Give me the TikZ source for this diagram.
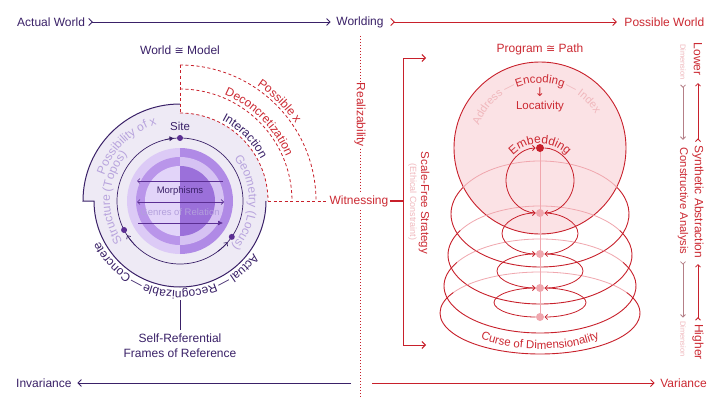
\documentclass[tikz,border=0pt]{standalone}
\usepackage{fontspec}
\setmainfont{Liberation Sans}
\newfontfamily\symf{DejaVu Sans}
\usetikzlibrary{arrows.meta,decorations.text,calc}
\definecolor{pD}{HTML}{3A2168}
\definecolor{pM}{HTML}{5B2E93}
\definecolor{lavBG}{HTML}{EEEAF5}
\definecolor{lavT}{HTML}{B8A4DD}
\definecolor{genT}{HTML}{B3A0DC}
\definecolor{pLa}{HTML}{DCCAF6}
\definecolor{pLb}{HTML}{D6C2F3}
\definecolor{pLc}{HTML}{E2D4F9}
\definecolor{pDa}{HTML}{B995EA}
\definecolor{pDb}{HTML}{B08AE6}
\definecolor{pDc}{HTML}{9B70DA}
\definecolor{rD}{HTML}{C8202B}
\definecolor{rT}{HTML}{CC2A33}
\definecolor{pkF}{HTML}{FBE2E5}
\definecolor{pkL}{HTML}{F0A7AE}
\definecolor{pkT}{HTML}{F0B7BC}
\definecolor{mauve}{HTML}{B57F87}
\newcommand{\myfs}[1]{\fontsize{#1}{#1}\selectfont}
% center, radius, start, end, format, text
\newcommand{\arctext}[6]{%
  \path[decorate,decoration={text along path,text align=center,text={|#5|#6}}]
    ($(#1)+(#3:#2)$) arc[start angle=#3,end angle=#4,radius=#2];}
\begin{document}
\begin{tikzpicture}[x=1pt,y=-1pt,
  lbl/.style={inner sep=1.5pt,font=\myfs{12}},
  barb/.style={{Straight Barb[reversed,length=3.5pt,width=7pt]}-{Straight Barb[length=3.5pt,width=7pt]}},
  sbarb/.style={{Straight Barb[reversed,length=2.5pt,width=5pt]}-{Straight Barb[length=2.5pt,width=5pt]}},
  headonly/.style={-{Straight Barb[length=3.5pt,width=7pt]}},
  dotl/.style={rD,line width=0.8pt,dash pattern=on 0.9pt off 2.1pt},
  dsh/.style={rD,line width=0.8pt,dash pattern=on 3pt off 2.5pt},
  loopar/.style={rD,line width=0.8pt,-{Straight Barb[length=2.5pt,width=5pt]},shorten >=4.5pt,shorten <=4.5pt},
]
\fill[white] (0,0) rectangle (720,404);
\useasboundingbox (0,0) rectangle (720,404);

% ---------- top and bottom axes ----------
\node[lbl,text=pD,anchor=west] (aw) at (15.5,22) {Actual World};
\node[lbl,text=pD] (wl) at (360,22) {Worlding};
\node[lbl,text=rT,anchor=east] (pw) at (706,22) {Possible World};
\draw[pD,line width=0.9pt,barb,shorten <=1.5pt,shorten >=4pt] (aw) -- (wl);
\draw[rD,line width=0.9pt,barb,shorten <=5pt,shorten >=6pt] (wl) -- (pw);

\node[lbl,text=pD,anchor=west] (inv) at (14.5,383) {Invariance};
\node[lbl,text=rT,anchor=east] (var) at (708.5,383) {Variance};
\coordinate (invS) at (351,383);
\coordinate (varS) at (372,383);
\draw[pD,line width=0.9pt,headonly,shorten >=4pt] (invS) -- (inv);
\draw[rD,line width=0.9pt,headonly,shorten >=4pt] (varS) -- (var);

% ---------- middle dotted divider ----------
\node[lbl,text=rT,rotate=-90] (real) at (360,115) {Realizability};
\node[lbl,text=rT] (wit) at (359,201) {Witnessing};
\coordinate (dTop) at (360,36);
\coordinate (dBot) at (360,397);
\draw[dotl] (dTop) -- (real.west);
\draw[dotl] (real.east) -- (360,193);
\draw[dotl] (360,210) -- (dBot);

% ---------- left world/model disc ----------
\node[lbl,text=pD] (wm) at (180,50) {World {\symf\myfs{11}≅} Model};
\coordinate (C) at (180,201);
\begin{scope}[shift={(180,201)}]
  \fill[lavBG] (0,-97) arc[start angle=-90,end angle=-180,radius=97] -- (-86,0)
     arc[start angle=180,end angle=0,radius=86] -- (88,0)
     arc[start angle=0,end angle=-90,radius=88] -- cycle;
  \draw[pD,line width=1pt] (0,-97) arc[start angle=-90,end angle=-180,radius=97] -- (-86,0)
     arc[start angle=180,end angle=0,radius=86];
  % checkered core
  \fill[pLa] (0,-53) arc[start angle=-90,end angle=-270,radius=53] -- cycle;
  \fill[pDb] (0,-53) arc[start angle=-90,end angle=90,radius=53] -- cycle;
  \fill[pDa] (0,-44) arc[start angle=-90,end angle=-270,radius=44] -- cycle;
  \fill[pLb] (0,-44) arc[start angle=-90,end angle=90,radius=44] -- cycle;
  \fill[pLc] (0,-35) arc[start angle=-90,end angle=-270,radius=35] -- cycle;
  \fill[pDc] (0,-35) arc[start angle=-90,end angle=90,radius=35] -- cycle;
  % site circle
  \draw[pD,line width=0.7pt] (0,0) circle[radius=63];
  \draw[pD,line width=0.7pt,-{Latex[length=5pt,width=5pt]}] (-104:63) arc[start angle=-104,end angle=-95,radius=63];
  \draw[pD,line width=0.7pt,-{Straight Barb[length=2.5pt,width=5pt]}] (135:63) arc[start angle=135,end angle=147,radius=63];
  \draw[pD,line width=0.7pt,-{Straight Barb[length=2.5pt,width=5pt]}] (53:63) arc[start angle=53,end angle=41,radius=63];
  \coordinate (site) at (-90:63);
  \coordinate (sl) at (152.6:63);
  \coordinate (sr) at (34.7:63);
  \fill[pM] (site) circle[radius=3];
  \fill[pM] (sl) circle[radius=3];
  \fill[pM] (sr) circle[radius=3];
  % morphism arrows
  \coordinate (m1a) at (-43,-20); \coordinate (m1b) at (43,-20);
  \coordinate (m2a) at (-43,1);   \coordinate (m2b) at (44,1);
  \coordinate (m3a) at (-42,22);  \coordinate (m3b) at (43,22);
  \draw[pM,line width=0.7pt,{Straight Barb[length=2.5pt,width=5pt]}-] (m1a) -- (m1b);
  \draw[pM,line width=0.7pt,{Straight Barb[length=2.5pt,width=5pt]}-{Straight Barb[length=2.5pt,width=5pt]}] (m2a) -- (m2b);
  \draw[pM,line width=0.7pt,-{Latex[length=5pt,width=5pt]}] (m3a) -- (m3b);
  \node[text=pD,font=\myfs{9.5}] (morph) at (0,-10) {Morphisms};
  \node[text=genT,font=\myfs{9.5}] (genres) at (0,11) {Genres of Relation};
  \node[lbl,text=pD,font=\myfs{11.5}] (sitel) at (0,-75) {Site};
  % dashed possibility arcs
  \draw[dsh] (0,-136) -- (0,-88);
  \draw[dsh] (0,-88) arc[start angle=-90,end angle=0,radius=88];
  \draw[dsh] (0,-112) arc[start angle=-90,end angle=0,radius=112];
  \draw[dsh] (0,-136) arc[start angle=-90,end angle=0,radius=136];
  \coordinate (dashS) at (88,0);
\end{scope}
\draw[dsh] (dashS) -- (wit.west);
% curved texts of the left disc
\arctext{C}{80}{-184}{-84}{\myfs{12}\color{lavT}}{Possibility of x}
\arctext{C}{70}{113}{253}{\myfs{12}\color{lavT}}{Structure (Topos)}
\arctext{C}{69}{-68}{71}{\myfs{12}\color{lavT}}{Geometry (Locus)}
\arctext{C}{90}{16}{76}{\myfs{12}\color{pD}}{Actual}
\arctext{C}{90}{52}{72}{\myfs{12}\color{pD}}{—}
\arctext{C}{90}{55}{125}{\myfs{12}\color{pD}}{Recognizable}
\arctext{C}{90}{108}{128}{\myfs{12}\color{pD}}{—}
\arctext{C}{90}{108}{168}{\myfs{12}\color{pD}}{Concrete}
\arctext{C}{91}{-85}{-5}{\myfs{12}\color{pD}}{Interaction}
\arctext{C}{115}{-85}{-5}{\myfs{12}\color{rT}}{Deconcretization}
\arctext{C}{139}{-85}{-5}{\myfs{12}\color{rT}}{Possible x}
% self-referential
\node[text=pD,font=\fontsize{12}{15}\selectfont,align=center] (selfref) at (180,345.5) {Self-Referential\\Frames of Reference};
\coordinate (vlTop) at (180,300);
\draw[pD,line width=1pt] (vlTop) -- (selfref.north);

% ---------- bracket ----------
\coordinate (brM) at (403,201);
\coordinate (brT) at (403,58);
\coordinate (brB) at (403,345);
\coordinate (brTe) at (426,58);
\coordinate (brBe) at (426,345);
\draw[rD,line width=1.4pt] (wit.east) -- (brM);
\draw[rD,line width=0.9pt,{Straight Barb[length=3.5pt,width=7pt]}-{Straight Barb[length=3.5pt,width=7pt]}] (brTe) -- (brT) -- (brB) -- (brBe);
\node[lbl,text=rT,font=\myfs{11.5},rotate=-90] (sfs) at (424,203) {Scale-Free Strategy};
\node[text=pkT,font=\myfs{9},rotate=-90,inner sep=1pt] (eth) at (412.5,202) {(Ethical Constraint)};

% ---------- right sphere and discs ----------
\node[lbl,text=rT] (prog) at (540,49) {Program {\symf\myfs{11}≅} Path};
\filldraw[fill=pkF,draw=rD,line width=0.9pt] (540,148) circle[radius=86];
\foreach \cy/\rx/\ry in {214/89/53,255/92/49,286/96/47,313/100/41}{
  \draw[pkL,line width=0.8pt] ($(540,\cy)+(210:{\rx} and {\ry})$) arc[start angle=210,end angle=330,x radius=\rx,y radius=\ry];
  \draw[rD,line width=0.9pt] ($(540,\cy)+(-30:{\rx} and {\ry})$) arc[start angle=-30,end angle=210,x radius=\rx,y radius=\ry];
}
\coordinate (e0) at (540,148);
\coordinate (e1) at (540,213);
\coordinate (e2) at (540,254);
\coordinate (e3) at (540,288);
\coordinate (e4) at (540,317);
\draw[pkL,line width=1pt] (e0) -- (e4);
\foreach \t/\b/\rx in {148/213/34,213/254/38,254/288/43,288/317/46}{
  \pgfmathsetmacro\ry{(\b-\t)/2}
  \draw[loopar] (540,\b) arc[start angle=90,end angle=270,x radius=\rx,y radius=\ry];
  \draw[loopar] (540,\t) arc[start angle=-90,end angle=90,x radius=\rx,y radius=\ry];
}
\fill[rD] (e0) circle[radius=4];
\foreach \p in {e1,e2,e3,e4}{\fill[pkL] (\p) circle[radius=4];}
% sphere texts
\coordinate (S) at (540,148);
\coordinate (L1) at (540,180.5);
\coordinate (D4) at (540,317);
\arctext{S}{65}{-140}{-40}{\myfs{11.5}\color{rT}}{Encoding}
\arctext{S}{65}{-166}{-106}{\myfs{11}\color{pkT}}{Address —}
\arctext{S}{65}{-75}{-24}{\myfs{11}\color{pkT}}{— Index}
\node[text=rT,font=\symf\myfs{12},inner sep=1pt] (darr) at (540,92) {↓};
\node[lbl,text=rT,font=\myfs{11.5}] (loc) at (540,107) {Locativity};
\arctext{L1}{37}{-150}{-30}{\myfs{12}\color{rT}}{Embedding}
\path[decorate,decoration={text along path,text align=center,text={|\myfs{11.5}\color{rT}|Curse of Dimensionality}}]
  ($(D4)+(165:81 and 32)$) arc[start angle=165,end angle=15,x radius=81,y radius=32];

% ---------- right dimension scales ----------
\node[lbl,text=rT,rotate=-90] (low) at (698,59) {Lower};
\node[lbl,text=rT,rotate=-90] (syn) at (698,202) {Synthetic Abstraction};
\node[lbl,text=rT,rotate=-90] (hig) at (698,342) {Higher};
\node[text=pkT,font=\myfs{7.5},rotate=-90,inner sep=1.5pt] (dim1) at (683,62) {Dimension};
\node[lbl,text=rT,font=\myfs{11.2},rotate=-90] (con) at (683,201) {Constructive Analysis};
\node[text=pkT,font=\myfs{7.5},rotate=-90,inner sep=1.5pt] (dim2) at (683,339) {Dimension};
\draw[rD,line width=0.8pt,sbarb,shorten <=2pt,shorten >=6pt] (syn.west) -- (low.east);
\draw[rD,line width=0.8pt,sbarb,shorten <=2pt,shorten >=4pt] (hig.west) -- (syn.east);
\draw[mauve,line width=0.8pt,sbarb,shorten <=3pt,shorten >=6pt] (dim1.east) -- (con.west);
\draw[mauve,line width=0.8pt,sbarb,shorten <=5pt,shorten >=2pt] (con.east) -- (dim2.west);
\end{tikzpicture}
\end{document}
